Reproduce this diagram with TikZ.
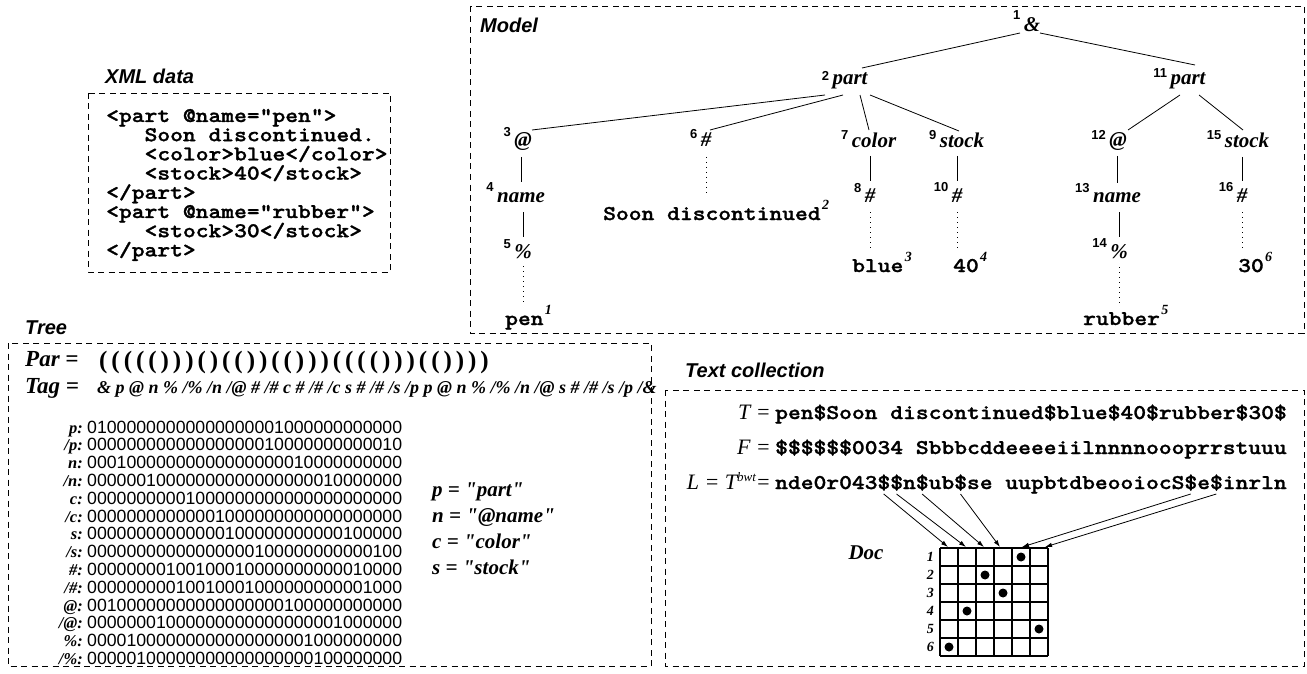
\documentclass[tikz,border=0pt]{standalone}
\usepackage{fontspec}
\usepackage{graphicx}
\usetikzlibrary{calc,arrows.meta}
\newfontfamily\hvf{Liberation Sans}
\newfontfamily\tmf{Liberation Serif}
\newfontfamily\cmono{lmmonolt10-bold.otf}[FakeBold=1.2]
\newcommand\fsz[1]{\fontsize{#1}{#1}\selectfont}
\newcommand\mono[1]{\scalebox{1.16}[1]{\cmono\fsz{21}#1}}
\newcommand\pps[1]{\ifx#1\relax\else\makebox[12.3pt]{#1}\expandafter\pps\fi}
\tikzset{
 box/.style={draw, line width=0.8pt, dash pattern=on 6pt off 4.5pt},
 ttl/.style={anchor=base west, inner sep=0pt, font=\hvf\bfseries\itshape\fsz{20}},
 tn/.style={anchor=base, inner sep=1pt, font=\tmf\bfseries\itshape\fsz{21}},
 num/.style={anchor=base east, inner sep=0pt, font=\hvf\bfseries\fsz{13}},
 leaf/.style={anchor=base west, inner sep=0pt},
 lsup/.style={anchor=base west, inner sep=0pt, font=\tmf\bfseries\itshape\fsz{14}},
 tedge/.style={line width=0.8pt},
 tdot/.style={line width=1pt, dash pattern=on 1pt off 4pt},
 bits/.style={anchor=base west, inner sep=0pt, font=\hvf\fsz{17.7}},
 blab/.style={anchor=base east, inner sep=0pt, font=\tmf\bfseries\itshape\fsz{16.5}},
 eqs/.style={anchor=base west, inner sep=0pt, font=\tmf\bfseries\itshape\fsz{21}},
 ptl/.style={anchor=base west, inner sep=0pt, font=\tmf\bfseries\itshape\fsz{23}},
 tlab/.style={anchor=base east, inner sep=0pt, font=\tmf\itshape\fsz{22}},
 arr/.style={line width=0.8pt, -{Latex[length=7pt,width=4.5pt]}},
 grd/.style={line width=1.1pt},
}
% tree node: name, x, baseline, text, number, raise
\newcommand\tnd[6]{\node[tn] (#1) at (#2,#3) {#4};
  \node[num] (#1s) at ([shift={(-2,-#6)}]#1.base west) {#5};}
% leaf: name, x, baseline, text, sup
\newcommand\lf[5]{\node[leaf] (#1) at (#2,#3) {\mono{#4}};
  \node[lsup] (#1s) at ([shift={(1,-11)}]#1.base east) {#5};}
\newcommand\brow[3]{\node[blab] (bl#1) at (83,{433+17.8*#1}) {#2};
  \node[bits] (bb#1) at (87,{433+17.8*#1}) {#3};}
\begin{document}
\begin{tikzpicture}[x=1pt,y=-1pt]
\useasboundingbox (0,0) rectangle (1307,674);
% ---------- XML data ----------
\node[ttl] (tx) at (105,84) {XML data};
\draw[box] (88,93) rectangle (390,272);
\node[leaf] (x1) at (106,122) {\mono{<part @name="pen">}};
\node[leaf] (x2) at (144.4,141.2) {\mono{Soon discontinued.}};
\node[leaf] (x3) at (144.4,160.4) {\mono{<color>blue</color>}};
\node[leaf] (x4) at (144.4,179.6) {\mono{<stock>40</stock>}};
\node[leaf] (x5) at (106,198.8) {\mono{</part>}};
\node[leaf] (x6) at (106,218) {\mono{<part @name="rubber">}};
\node[leaf] (x7) at (144.4,237.2) {\mono{<stock>30</stock>}};
\node[leaf] (x8) at (106,256.4) {\mono{</part>}};
% ---------- Model ----------
\draw[box] (470,6) rectangle (1304,333);
\node[ttl] (tm) at (480,33) {Model};
\tnd{n1}{1032}{32}{\&}{1}{12}
\tnd{n2}{850}{85}{part}{2}{4}
\tnd{n11}{1188}{85}{part}{11}{7}
\tnd{n3}{523}{147}{@}{3}{10}
\tnd{n6}{706}{147}{\#}{6}{8}
\tnd{n7}{874}{148}{color}{7}{8}
\tnd{n9}{962}{148}{stock}{9}{8}
\tnd{n12}{1118}{147}{@}{12}{7}
\tnd{n15}{1247}{148}{stock}{15}{8}
\tnd{n4}{521}{202}{name}{4}{10}
\tnd{n8}{870}{203}{\#}{8}{10}
\tnd{n10}{957}{203}{\#}{10}{12}
\tnd{n13}{1117}{202}{name}{13}{9}
\tnd{n16}{1242}{203}{\#}{16}{11}
\tnd{n5}{523}{258}{\%}{5}{10}
\tnd{n14}{1119}{258}{\%}{14}{11}
\lf{l6}{603}{220}{Soon discontinued}{2}
\lf{l8}{852}{272}{blue}{3}
\lf{l10}{953}{272}{40}{4}
\lf{l16}{1238}{272}{30}{6}
\lf{l5}{505}{325}{pen}{1}
\lf{l14}{1083}{325}{rubber}{5}
% diagonal edges
\draw[tedge] ($(n1.base)+(-12,1)$) -- ($(n2.base)+(12,-17)$);
\draw[tedge] ($(n1.base)+(8,1)$) -- ($(n11.base)+(7,-20)$);
\draw[tedge] ($(n2.base)+(-25,10)$) -- ($(n3.base)+(9,-17)$);
\draw[tedge] ($(n2.base)+(-7,10)$) -- ($(n6.base)+(4,-17)$);
\draw[tedge] ($(n2.base)+(10,10)$) -- ($(n7.base)+(-5,-18)$);
\draw[tedge] ($(n2.base)+(20,10)$) -- ($(n9.base)+(-3,-17)$);
\draw[tedge] ($(n11.base)+(-8,10)$) -- ($(n12.base)+(10,-17)$);
\draw[tedge] ($(n11.base)+(11,10)$) -- ($(n15.base)+(-4,-18)$);
% vertical edges
\draw[tedge] ($(n3.base -| n4.base)+(0,10)$) -- ($(n4.base)+(0,-20)$);
\draw[tedge] ($(n4.base -| n5.base)+(0,10)$) -- ($(n5.base)+(0,-21)$);
\draw[tedge] ($(n7.base -| n8.base)+(0,8)$) -- ($(n8.base)+(0,-22)$);
\draw[tedge] ($(n9.base -| n10.base)+(0,8)$) -- ($(n10.base)+(0,-22)$);
\draw[tedge] ($(n12.base -| n13.base)+(0,9)$) -- ($(n13.base)+(0,-19)$);
\draw[tedge] ($(n13.base -| n14.base)+(0,10)$) -- ($(n14.base)+(0,-21)$);
\draw[tedge] ($(n15.base -| n16.base)+(0,9)$) -- ($(n16.base)+(0,-22)$);
% dotted edges
\draw[tdot] ($(n6.base)+(0,10)$) -- ($(n6.base |- l6.base)+(0,-24)$);
\draw[tdot] ($(n5.base)+(0,8)$) -- ($(n5.base |- l5.base)+(0,-22)$);
\draw[tdot] ($(n8.base)+(0,9)$) -- ($(n8.base |- l8.base)+(0,-22)$);
\draw[tdot] ($(n10.base)+(0,9)$) -- ($(n10.base |- l10.base)+(0,-22)$);
\draw[tdot] ($(n14.base)+(0,9)$) -- ($(n14.base |- l14.base)+(0,-22)$);
\draw[tdot] ($(n16.base)+(0,9)$) -- ($(n16.base |- l16.base)+(0,-22)$);
% ---------- Tree ----------
\node[ttl] (tt) at (25,334) {Tree};
\draw[box] (8,343) rectangle (651,666);
\node[ptl] (parl) at (25,366) {Par =};
\node[anchor=base west, inner sep=0pt, font=\tmf\bfseries\fsz{25}] (pars) at (97,368)
  {\pps((((()))()(())(()))(((()))(())))\relax};
\node[ptl] (tagl) at (25,393) {Tag =};
\node[anchor=base west, inner sep=0pt, font=\tmf\bfseries\itshape\fsz{18}] (tags) at (97,393)
  {\& p @ n \% /\% /n /@ \# /\# c \# /\# /c s \# /\# /s /p p @ n \% /\% /n /@ s \# /\# /s /p /\&};
\brow{0}{p:}{01000000000000000001000000000000}
\brow{1}{/p:}{00000000000000000010000000000010}
\brow{2}{n:}{00010000000000000000010000000000}
\brow{3}{/n:}{00000010000000000000000010000000}
\brow{4}{c:}{00000000001000000000000000000000}
\brow{5}{/c:}{00000000000001000000000000000000}
\brow{6}{s:}{00000000000000100000000000100000}
\brow{7}{/s:}{00000000000000000100000000000100}
\brow{8}{\#:}{00000000100100010000000000010000}
\brow{9}{/\#:}{00000000010010001000000000001000}
\brow{10}{@:}{00100000000000000000100000000000}
\brow{11}{/@:}{00000001000000000000000001000000}
\brow{12}{\%:}{00001000000000000000001000000000}
\brow{13}{/\%:}{00000100000000000000000100000000}
\node[eqs] (e1) at (432,496) {p = "part"};
\node[eqs] (e2) at (432,522) {n = "@name"};
\node[eqs] (e3) at (432,548) {c = "color"};
\node[eqs] (e4) at (432,574) {s = "stock"};
% ---------- Text collection ----------
\node[ttl] (tc) at (685,377) {Text collection};
\draw[box] (665,390) rectangle (1304,666);
\node[tlab] (Tl) at (771,419) {T =};
\node[leaf] (Ts) at (775,419) {\mono{pen\$Soon discontinued\$blue\$40\$rubber\$30\$}};
\node[tlab] (Fl) at (771,454) {F =};
\node[leaf] (Fs) at (775,454) {\mono{\$\$\$\$\$\$0034 Sbbbcddeeeeiilnnnnoooprrstuuu}};
\node[tlab] (Ll) at (771,489) {L = T\raisebox{8pt}{\fsz{13}bwt}=};
\node[leaf] (Ls) at (775,489) {\mono{nde0r043\$\$n\$ub\$se uupbtdbeooiocS\$e\$inrln}};
\node[anchor=center, inner sep=0pt, font=\tmf\bfseries\itshape\fsz{21}] (doc) at (866,553) {Doc};
% grid
\foreach \i in {0,...,6} {
  \draw[grd] ({940+18*\i},548) -- ({940+18*\i},656);
  \draw[grd] (940,{548+18*\i}) -- (1048,{548+18*\i});
}
\foreach \r in {1,...,6}
  \node[anchor=base east, inner sep=0pt, font=\tmf\bfseries\itshape\fsz{14}] (rn\r) at (934,{548+18*\r-5}) {\r};
\foreach \r/\c in {1/5,2/3,3/4,4/2,5/6,6/1}
  \fill ({940+18*\c-9},{548+18*\r-9}) circle[radius=4.5];
% arrows from $ to documents
\coordinate (d1) at ($(Ls.base west)+(108.7,5)$);
\coordinate (d2) at ($(Ls.base west)+(121.5,5)$);
\coordinate (d3) at ($(Ls.base west)+(147.1,5)$);
\coordinate (d4) at ($(Ls.base west)+(185.5,5)$);
\coordinate (d5) at ($(Ls.base west)+(415.7,5)$);
\coordinate (d6) at ($(Ls.base west)+(441.3,5)$);
\coordinate (c1) at (948,547);
\coordinate (c2) at (966,547);
\coordinate (c3) at (984,547);
\coordinate (c4) at (1000,547);
\coordinate (c5) at (1022,547);
\coordinate (c6) at (1045,547);
\foreach \k in {1,...,6} \draw[arr] (d\k) -- (c\k);
\end{tikzpicture}
\end{document}
